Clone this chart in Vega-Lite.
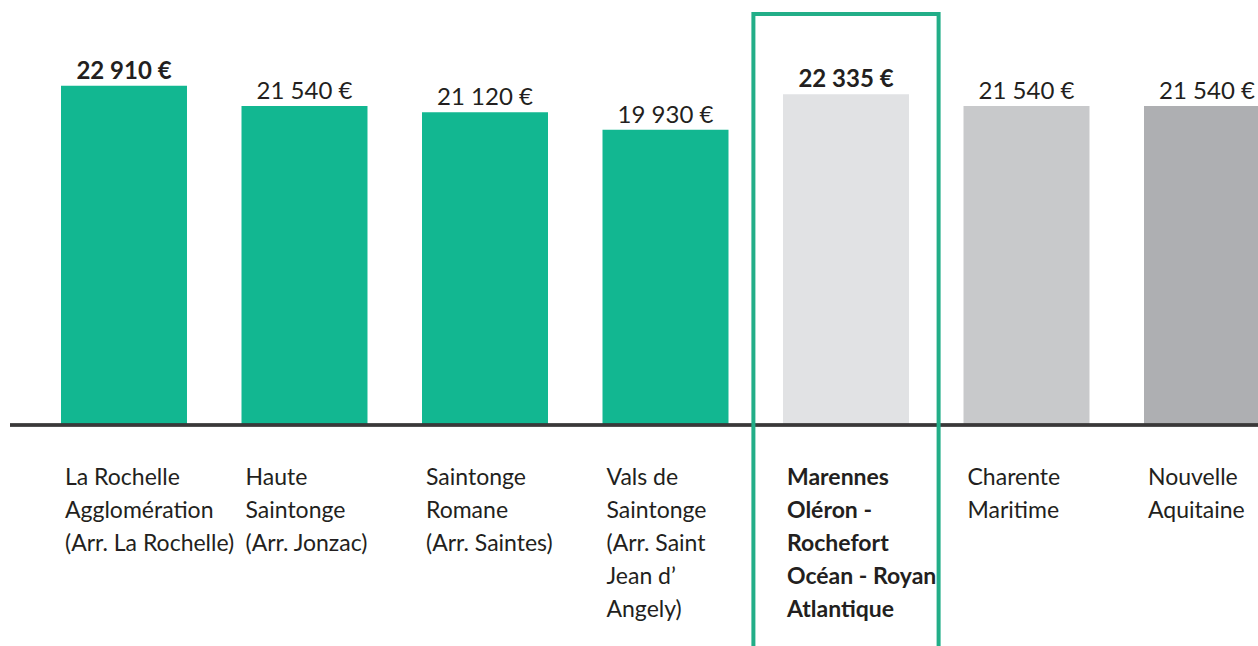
{
  "$schema": "https://vega.github.io/schema/vega-lite/v6.json",
  "autosize": {"type": "none"},
  "padding": {"left": 10, "top": 0, "right": 0, "bottom": 221},
  "width": 1248,
  "height": 425,
  "background": "white",
  "config": {
    "view": {"stroke": null},
    "font": "Lato",
    "locale": {"number": {"decimal": ",", "thousands": " ", "grouping": [3], "currency": ["", " €"]}}
  },
  "data": {"values": [
    {"zone": "La Rochelle\nAgglomération\n(Arr. La Rochelle)", "revenu": 22910},
    {"zone": "Haute\nSaintonge\n(Arr. Jonzac)", "revenu": 21540},
    {"zone": "Saintonge\nRomane\n(Arr. Saintes)", "revenu": 21120},
    {"zone": "Vals de\nSaintonge\n(Arr. Saint\nJean d’\nAngely)", "revenu": 19930},
    {"zone": "Marennes\nOléron -\nRochefort\nOcéan - Royan\nAtlantique", "revenu": 22335},
    {"zone": "Charente\nMaritime", "revenu": 21540},
    {"zone": "Nouvelle\nAquitaine", "revenu": 21540}
  ]},
  "resolve": {"scale": {"y": "shared", "x": "shared"}},
  "layer": [
    {
      "mark": {"type": "bar"},
      "encoding": {
        "x": {
          "field": "zone", "type": "nominal", "sort": null,
          "scale": {"range": [51, 1260], "paddingInner": 0.302, "paddingOuter": 0},
          "axis": {
            "title": null, "domain": false, "ticks": false,
            "labelAlign": "left", "labelOffset": -59, "labelPadding": 41,
            "labelBaseline": "top", "labelAngle": 0,
            "labelFont": "Lato", "labelFontSize": 23, "labelLineHeight": 33,
            "labelColor": "#231f20", "labelLimit": 0,
            "labelExpr": "split(datum.label, '\\n')",
            "labelFontWeight": {"condition": {"test": "indexof(datum.value, 'Marennes') >= 0", "value": "bold"}, "value": "normal"}
          }
        },
        "y": {"field": "revenu", "type": "quantitative", "scale": {"domain": [0, 28700], "nice": false, "zero": true}, "axis": null},
        "color": {
          "field": "zone", "type": "nominal", "legend": null,
          "scale": {
            "domain": [
              "La Rochelle\nAgglomération\n(Arr. La Rochelle)",
              "Haute\nSaintonge\n(Arr. Jonzac)",
              "Saintonge\nRomane\n(Arr. Saintes)",
              "Vals de\nSaintonge\n(Arr. Saint\nJean d’\nAngely)",
              "Marennes\nOléron -\nRochefort\nOcéan - Royan\nAtlantique",
              "Charente\nMaritime",
              "Nouvelle\nAquitaine"
            ],
            "range": ["#12b791", "#12b791", "#12b791", "#12b791", "#e1e2e4", "#c8c9cb", "#aeafb2"]
          }
        }
      }
    },
    {
      "mark": {"type": "rule", "color": "#3a3839", "strokeWidth": 2.5},
      "encoding": {"y": {"datum": 0}}
    },
    {
      "transform": [{"filter": "indexof(datum.zone, 'Marennes') >= 0"}],
      "mark": {"type": "bar", "filled": false, "stroke": "#22ae88", "strokeWidth": 4, "width": {"band": 1.47}, "clip": false},
      "encoding": {
        "x": {"field": "zone", "type": "nominal", "sort": null},
        "y": {"datum": 27755},
        "y2": {"datum": -15500}
      }
    },
    {
      "transform": [{"filter": "indexof(datum.zone, 'Marennes') < 0 && indexof(datum.zone, 'La Rochelle') != 0"}],
      "mark": {"type": "text", "baseline": "alphabetic", "align": "center", "dy": -7, "fontSize": 24, "font": "Lato", "color": "#231f20"},
      "encoding": {
        "x": {"field": "zone", "type": "nominal", "sort": null},
        "y": {"field": "revenu", "type": "quantitative"},
        "text": {"field": "revenu", "type": "quantitative", "format": "$,.0f"}
      }
    },
    {
      "transform": [{"filter": "indexof(datum.zone, 'Marennes') >= 0 || indexof(datum.zone, 'La Rochelle') == 0"}],
      "mark": {"type": "text", "baseline": "alphabetic", "align": "center", "dy": -7, "fontSize": 24, "font": "Lato", "fontWeight": "bold", "color": "#231f20"},
      "encoding": {
        "x": {"field": "zone", "type": "nominal", "sort": null},
        "y": {"field": "revenu", "type": "quantitative"},
        "text": {"field": "revenu", "type": "quantitative", "format": "$,.0f"}
      }
    }
  ]
}
